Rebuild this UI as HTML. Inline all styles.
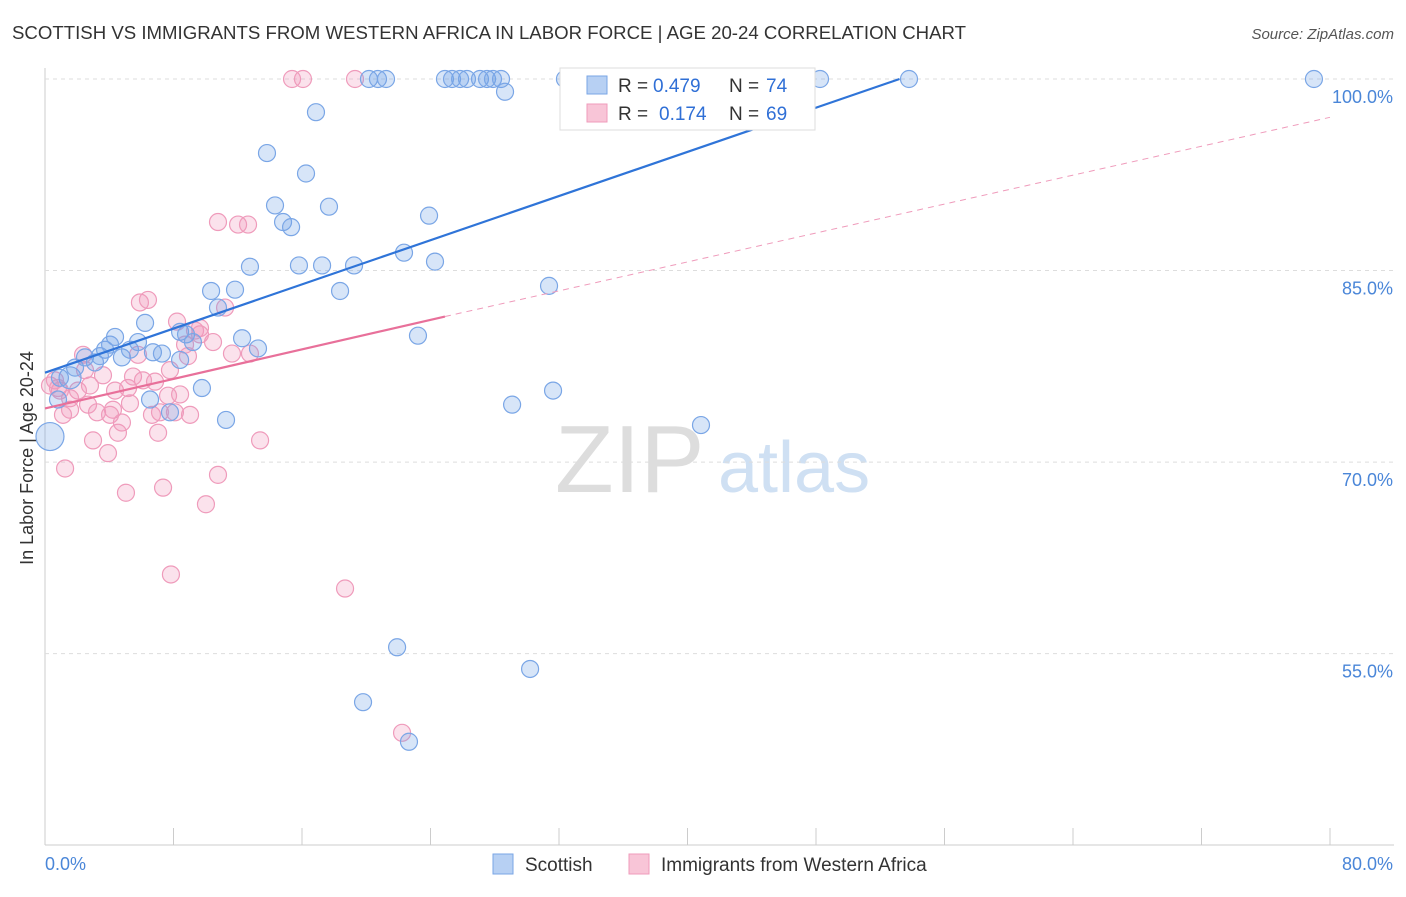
<!DOCTYPE html>
<html><head><meta charset="utf-8"><style>
body{margin:0;background:#fff;font-family:"Liberation Sans",sans-serif}
svg text{font-family:"Liberation Sans",sans-serif}
</style></head><body>
<svg id="c" width="1406" height="892">
<text x="12" y="39" font-size="18" fill="#333" textLength="954" lengthAdjust="spacingAndGlyphs">SCOTTISH VS IMMIGRANTS FROM WESTERN AFRICA IN LABOR FORCE | AGE 20-24 CORRELATION CHART</text>
<text x="1394" y="39" font-size="15" fill="#555" text-anchor="end" font-style="italic">Source: ZipAtlas.com</text>
<text x="33" y="458" font-size="18" fill="#333" text-anchor="middle" transform="rotate(-90 33 458)">In Labor Force | Age 20-24</text>
<g><text x="555" y="492" font-size="96" fill="#ddd" font-family="Liberation Serif">ZIP</text><text x="718" y="492" font-size="72" fill="#cfe0f3">atlas</text></g>
<g id="grid"></g><g id="pts"></g><g id="lines"></g>
<g>
<rect x="560" y="68" width="255" height="62" fill="#fff" stroke="#ddd"/>
<rect x="587" y="76" width="20" height="18" fill="#b7d0f3" stroke="#7aa6e6"/>
<text x="618" y="92" font-size="19" fill="#333">R =</text>
<text x="653" y="92" font-size="19" fill="#2f6fd6">0.479</text>
<text x="729" y="92" font-size="19" fill="#333">N =</text>
<text x="766" y="92" font-size="19" fill="#2f6fd6">74</text>
<rect x="587" y="104" width="20" height="18" fill="#f8c5d7" stroke="#ef9bbb"/>
<text x="618" y="120" font-size="19" fill="#333">R =</text>
<text x="659" y="120" font-size="19" fill="#2f6fd6">0.174</text>
<text x="729" y="120" font-size="19" fill="#333">N =</text>
<text x="766" y="120" font-size="19" fill="#2f6fd6">69</text>
</g>
<g>
<rect x="493" y="854" width="20" height="20" fill="#b7d0f3" stroke="#7aa6e6"/>
<text x="525" y="871" font-size="19" fill="#333">Scottish</text>
<rect x="629" y="854" width="20" height="20" fill="#f8c5d7" stroke="#ef9bbb"/>
<text x="661" y="871" font-size="19" fill="#333">Immigrants from Western Africa</text>
</g>
</svg>
<script>
const xTicksVals=[0,8,16,24,32,40,48,56,64,72,80];
const yTicksVals=[55,70,85,100];
const yTickLabels=["55.0%","70.0%","85.0%","100.0%"];
const xEndLabels=["0.0%","80.0%"];
const blueX=[0.31,1.56,0.81,1.87,2.49,3.11,3.74,4.36,4.79,5.29,5.79,6.23,6.72,7.28,7.78,8.41,8.78,9.21,9.77,10.34,10.77,11.27,11.83,12.27,12.76,13.26,13.82,14.32,14.82,15.32,15.81,16.25,16.87,17.25,17.68,18.37,19.24,20.17,20.73,21.23,21.92,22.35,22.66,23.22,23.91,24.28,19.8,24.9,25.34,25.84,26.27,27.08,27.52,27.89,28.39,28.64,29.08,30.2,31.38,31.63,32.37,33.74,35.3,37.1,38.23,40.84,48.25,53.79,79.0,0.93,3.42,4.05,8.41,6.54];
const blueY=[72.0,76.6,74.9,77.4,78.2,77.8,78.8,79.8,78.2,78.8,79.4,80.9,78.6,78.5,73.9,80.2,80.0,79.4,75.8,83.4,82.1,73.3,83.5,79.7,85.3,78.9,94.2,90.1,88.8,88.4,85.4,92.6,97.4,85.4,90.0,83.4,85.4,100,100,100,55.5,86.4,48.1,79.9,89.3,85.7,51.2,100,100,100,100,100,100,100,100,99.0,74.5,53.8,83.8,75.6,100,100,100,100,100,72.9,100,100,100,76.6,78.3,79.2,78.0,74.9];
const pinkX=[0.31,0.62,0.93,1.12,1.25,1.56,2.05,2.37,2.68,2.99,3.24,3.61,3.92,4.23,4.54,4.79,5.04,5.29,5.48,5.79,5.91,6.10,6.41,6.66,6.85,7.04,7.35,7.66,7.84,8.09,8.22,8.41,8.72,8.9,9.03,9.34,9.65,10.02,10.46,10.77,10.77,11.21,11.64,12.02,12.64,12.76,13.39,15.38,16.06,18.68,19.3,22.23,1.56,2.8,4.36,5.17,4.05,2.49,7.16,7.78,9.65,0.81];
const pinkY=[76.0,76.4,75.6,73.7,69.5,74.1,75.6,78.4,74.5,71.7,73.9,76.8,70.7,74.1,72.3,73.1,67.6,74.6,76.7,78.4,82.5,76.4,82.7,73.7,76.3,72.3,68.0,75.2,61.2,73.9,81.0,75.3,79.2,78.3,73.7,80.3,80.5,66.7,79.4,69.0,88.8,82.1,78.5,88.6,88.6,78.5,71.7,100,100,60.1,100,48.8,75.0,76.0,75.6,75.8,73.7,77.2,73.9,77.2,80.0,75.8];
const blueTrendX=[0,53.2], blueTrendY=[77.0,100];
const pinkTrendX=[0,24.9], pinkTrendY=[74.2,81.4];
const pinkDashX=[24.9,80], pinkDashY=[81.4,97.0];

const X=v=>45+v/80*1285;
const Y=v=>79+(100-v)*12.77;
const NS="http://www.w3.org/2000/svg";
function mk(tag,attrs,parent){const e=document.createElementNS(NS,tag);for(const k in attrs)e.setAttribute(k,attrs[k]);parent.appendChild(e);return e;}
const grid=document.getElementById('grid');
let ax=mk('line',{x1:45,y1:68,x2:45,y2:845,stroke:'#ccc'},grid);


let bx=mk('line',{x1:45,y1:845,x2:1394,y2:845,stroke:'#ccc'},grid);


yTicksVals.forEach((v,i)=>{
 let g=mk('line',{x1:45,y1:Y(v),x2:1394,y2:Y(v),stroke:'#ddd','stroke-dasharray':'4,4'},grid);
 
 
 let t=mk('text',{x:1393,y:Y(v)+24,'font-size':18,fill:'#4a86d8','text-anchor':'end'},grid);
 t.textContent=yTickLabels[i];
 
 
});
xTicksVals.forEach(v=>{
 let t=mk('line',{x1:X(v),y1:828,x2:X(v),y2:845,stroke:'#ccc'},grid);
 
 
});
[[0,'start',45],[80,'end',1393]].forEach((a,i)=>{
 let t=mk('text',{x:a[2],y:870,'font-size':18,fill:'#4a86d8','text-anchor':a[1]},grid);
 t.textContent=xEndLabels[i];
 
 
});
const pts=document.getElementById('pts');
pinkX.forEach((x,i)=>{
 let c=mk('circle',{cx:X(x),cy:Y(pinkY[i]),r:8.5,fill:'rgba(242,150,185,0.28)',stroke:'#ef9bbb','stroke-width':1.2},pts);
 
 
});
blueX.forEach((x,i)=>{
 let c=mk('circle',{cx:X(x),cy:Y(blueY[i]),r:i===0?14:(i===1?11:8.5),fill:'rgba(110,160,230,0.28)',stroke:'#7aa6e6','stroke-width':1.2},pts);
 
 
});
const lines=document.getElementById('lines');
let l1=mk('line',{x1:X(blueTrendX[0]),y1:Y(blueTrendY[0]),x2:X(blueTrendX[1]),y2:Y(blueTrendY[1]),stroke:'#2f74d8','stroke-width':2.2},lines);


let l2=mk('line',{x1:X(pinkTrendX[0]),y1:Y(pinkTrendY[0]),x2:X(pinkTrendX[1]),y2:Y(pinkTrendY[1]),stroke:'#e8709a','stroke-width':2.2},lines);


let l3=mk('line',{x1:X(pinkDashX[0]),y1:Y(pinkDashY[0]),x2:X(pinkDashX[1]),y2:Y(pinkDashY[1]),stroke:'#ef9bbb','stroke-width':1,'stroke-dasharray':'6,5'},lines);


</script>
</body></html>
